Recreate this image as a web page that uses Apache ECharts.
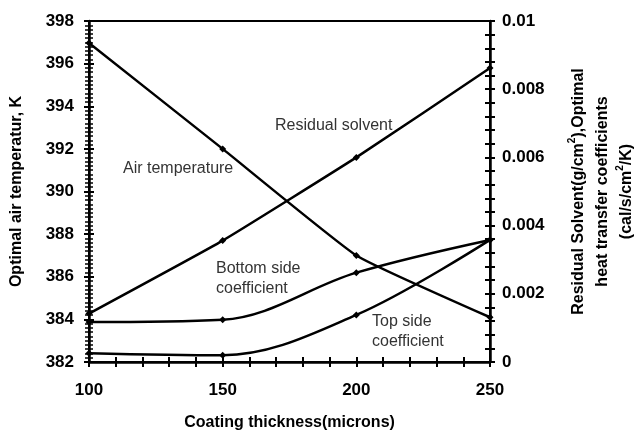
<!DOCTYPE html>
<html><head><meta charset="utf-8">
<script src="https://cdn.jsdelivr.net/npm/echarts@6/dist/echarts.min.js"></script>
<style>html,body{margin:0;padding:0;background:#fff}#c{width:638px;height:433px}</style>
</head><body><div id="c"></div>
<script>
var thickness = [100, 150, 200, 250];
var airTemperature = [396.97, 392.0, 387.0, 384.1];
var residualSolvent = [0.00142, 0.00356, 0.00600, 0.00862];
var bottomCoefficient = [0.00117, 0.00124, 0.00262, 0.00358];
var topCoefficient = [0.00026, 0.00020, 0.00138, 0.00358];
var labelTexts = ['Air temperature', 'Residual solvent', 'Bottom side\ncoefficient', 'Top side\ncoefficient'];

var F = 'Liberation Sans, Arial, sans-serif';
function pairs(ys){ return thickness.map(function(x,i){ return [x, ys[i]]; }); }
function line(name, ys, yi, sm){
  return { name: name, type: 'line', yAxisIndex: yi, data: pairs(ys), smooth: sm,
    symbol: 'diamond', symbolSize: 7, showSymbol: true,
    lineStyle: { color: '#000', width: 2.5 }, itemStyle: { color: '#000' } };
}
var chart = echarts.init(document.getElementById('c'));
chart.setOption({
  animation: false,
  grid: { left: 89, right: 148, top: 21, bottom: 71, show: true, borderColor: '#000', borderWidth: 2,
          containLabel: false, outerBoundsMode: 'none' },
  xAxis: [{
    type: 'value', min: 100, max: 250, interval: 50,
    name: 'Coating thickness(microns)', nameLocation: 'middle', nameGap: 53,
    nameTextStyle: { fontFamily: F, fontWeight: 'bold', fontSize: 16, color: '#000' },
    axisLine: { lineStyle: { color: '#000', width: 2.5 } },
    axisTick: { length: 5, lineStyle: { color: '#000', width: 2 } },
    minorTick: { show: true, splitNumber: 5, length: 5, lineStyle: { color: '#000', width: 2 } },
    axisLabel: { fontFamily: F, fontWeight: 'bold', fontSize: 17, color: '#000', margin: 20 },
    splitLine: { show: false }
  }, {
    type: 'value', min: 100, max: 250, interval: 50, position: 'bottom',
    axisLine: { show: false }, axisLabel: { show: false }, splitLine: { show: false },
    axisTick: { inside: true, length: 5, lineStyle: { color: '#000', width: 2 } },
    minorTick: { show: true, splitNumber: 5, length: 5, lineStyle: { color: '#000', width: 2 } }
  }],
  yAxis: [{
    type: 'value', min: 382, max: 398, interval: 2, position: 'left',
    name: 'Optimal air temperatur, K', nameLocation: 'middle', nameGap: 64, nameRotate: 90,
    nameTextStyle: { fontFamily: F, fontWeight: 'bold', fontSize: 16, color: '#000' },
    axisLine: { show: true, lineStyle: { color: '#000', width: 2.5 } },
    axisTick: { length: 5, lineStyle: { color: '#000', width: 2 } },
    minorTick: { show: true, splitNumber: 10, length: 4, lineStyle: { color: '#000', width: 1.5 } },
    axisLabel: { fontFamily: F, fontWeight: 'bold', fontSize: 17, color: '#000', margin: 15 },
    splitLine: { show: false }
  }, {
    type: 'value', min: 0, max: 0.01, interval: 0.002, position: 'right',
    name: '{a|Residual Solvent(g/cm}{s|2}{a|),Optimal}\n{a|heat transfer coefficients}\n{a|(cal/s/cm}{s|2}{a|/K)}',
    nameLocation: 'middle', nameGap: 77, nameRotate: 90,
    nameTextStyle: { fontFamily: F, fontWeight: 'bold', fontSize: 16, color: '#000', lineHeight: 24,
      rich: { a: { fontFamily: F, fontWeight: 'bold', fontSize: 16, color: '#000', lineHeight: 24 },
              s: { fontFamily: F, fontWeight: 'bold', fontSize: 10, color: '#000', verticalAlign: 'top', lineHeight: 24, padding: [0,0,10,0] } } },
    axisLine: { show: true, lineStyle: { color: '#000', width: 2.5 } },
    axisTick: { length: 5, lineStyle: { color: '#000', width: 2 } },
    minorTick: { show: true, splitNumber: 5, length: 5, lineStyle: { color: '#000', width: 2 } },
    axisLabel: { fontFamily: F, fontWeight: 'bold', fontSize: 17, color: '#000', margin: 12,
      formatter: function(v){ return String(+v.toFixed(3)); } },
    splitLine: { show: false }
  }, {
    type: 'value', min: 382, max: 398, interval: 2, position: 'left',
    axisLine: { show: false }, axisLabel: { show: false }, splitLine: { show: false },
    axisTick: { inside: true, length: 5, lineStyle: { color: '#000', width: 2 } },
    minorTick: { show: true, splitNumber: 10, length: 4, lineStyle: { color: '#000', width: 1.5 } }
  }, {
    type: 'value', min: 0, max: 0.01, interval: 0.002, position: 'right',
    axisLine: { show: false }, axisLabel: { show: false }, splitLine: { show: false },
    axisTick: { inside: true, length: 5, lineStyle: { color: '#000', width: 2 } },
    minorTick: { show: true, splitNumber: 5, length: 5, lineStyle: { color: '#000', width: 2 } }
  }],
  graphic: [
    { type: 'text', left: 123, top: 161, style: { text: labelTexts[0], font: '16px ' + F, fill: '#333' } },
    { type: 'text', left: 275, top: 118, style: { text: labelTexts[1], font: '16px ' + F, fill: '#333' } },
    { type: 'text', left: 216, top: 259, style: { text: labelTexts[2], font: '16px ' + F, fill: '#333', lineHeight: 20 } },
    { type: 'text', left: 372, top: 312, style: { text: labelTexts[3], font: '16px ' + F, fill: '#333', lineHeight: 20 } }
  ],
  series: [
    line('Air temperature', airTemperature, 0, 0.12),
    line('Residual solvent', residualSolvent, 1, 0.12),
    line('Bottom side coefficient', bottomCoefficient, 1, 0.35),
    line('Top side coefficient', topCoefficient, 1, 0.35)
  ]
});
</script></body></html>
